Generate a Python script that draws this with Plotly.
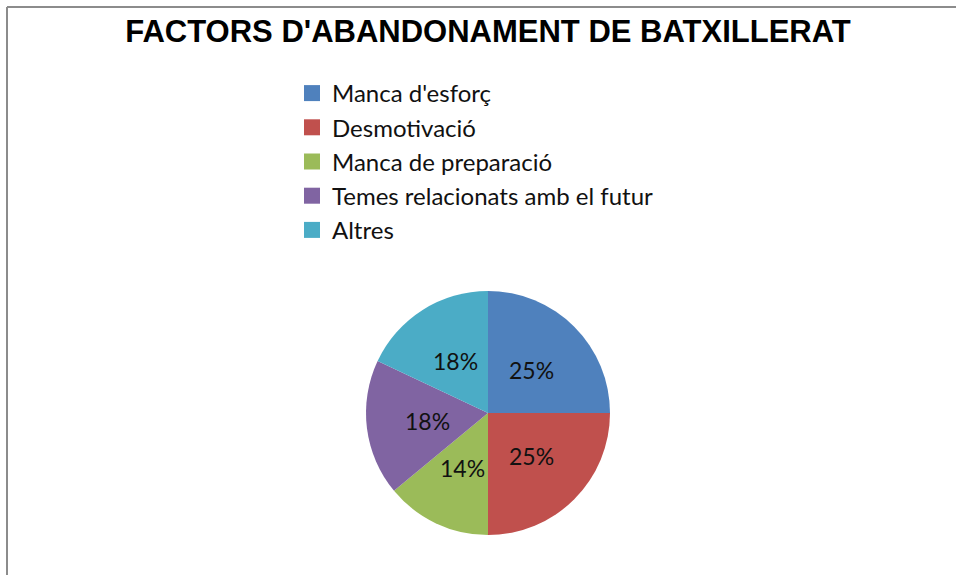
import math
import plotly.graph_objects as go

# Reasons for leaving the batxillerat, share of responses (%)
categories = ["Manca d'esforç", "Desmotivació", "Manca de preparació",
              "Temes relacionats amb el futur", "Altres"]
values = [25, 25, 14, 18, 18]
colors = ["#4F81BD", "#C0504D", "#9BBB59", "#8064A2", "#4BACC6"]

title_text = "FACTORS D'ABANDONAMENT DE BATXILLERAT"

W, H = 956, 575
# pie placement in pixels (centre and radius)
CX, CY, R = 488, 413, 122

fig = go.Figure()

fig.add_trace(go.Pie(
    labels=categories,
    values=values,
    sort=False,
    direction="clockwise",
    rotation=0,
    marker=dict(colors=colors, line=dict(width=0)),
    textinfo="none",
    domain=dict(x=[(CX - R) / W, (CX + R) / W], y=[1 - (CY + R) / H, 1 - (CY - R) / H]),
    showlegend=False,
    hoverinfo="label+percent",
))

# Percentage labels at half the radius, on each slice's mid-angle
total = sum(values)
annotations = []
cum = 0.0
for v in values:
    mid = (cum + v / 2) / total * 2 * math.pi
    cum += v
    px = CX + 0.5 * R * math.sin(mid)
    py = CY - 0.5 * R * math.cos(mid)
    annotations.append(dict(
        x=px / W, y=1 - py / H, xref="paper", yref="paper",
        text=f"{round(100 * v / total)}%", showarrow=False,
        xanchor="center", yanchor="middle",
        font=dict(family="Lato, sans-serif", size=23, color="#111111"),
    ))

# Legend entries with square swatches, one per category
for name, col in zip(categories, colors):
    fig.add_trace(go.Scatter(
        x=[None], y=[None], mode="markers", name=name,
        marker=dict(symbol="square", size=16, color=col),
        legendgroup="factors",
    ))

fig.update_layout(
    width=W, height=H,
    margin=dict(l=0, r=0, t=0, b=0),
    paper_bgcolor="white",
    plot_bgcolor="white",
    xaxis=dict(visible=False),
    yaxis=dict(visible=False),
    title=dict(
        text="<b>" + title_text + "</b>",
        x=488 / W, xanchor="center",
        y=1 - 31 / H, yanchor="middle",
        font=dict(family="Liberation Sans, Arial, sans-serif", size=31, color="#000000"),
    ),
    legend=dict(
        x=292 / W, xanchor="left",
        y=1 - 71 / H, yanchor="top",
        font=dict(family="Lato, sans-serif", size=24, color="#111111"),
        tracegroupgap=0,
        bgcolor="rgba(0,0,0,0)",
    ),
    annotations=annotations,
    shapes=[
        dict(type="line", xref="paper", yref="paper", x0=7 / W, x1=1.0, y0=1 - 7 / H, y1=1 - 7 / H,
             line=dict(color="#8C8C8C", width=2)),
        dict(type="line", xref="paper", yref="paper", x0=7 / W, x1=7 / W, y0=1 - 7 / H, y1=0,
             line=dict(color="#8C8C8C", width=2)),
    ],
)

fig.write_html("out.html")
